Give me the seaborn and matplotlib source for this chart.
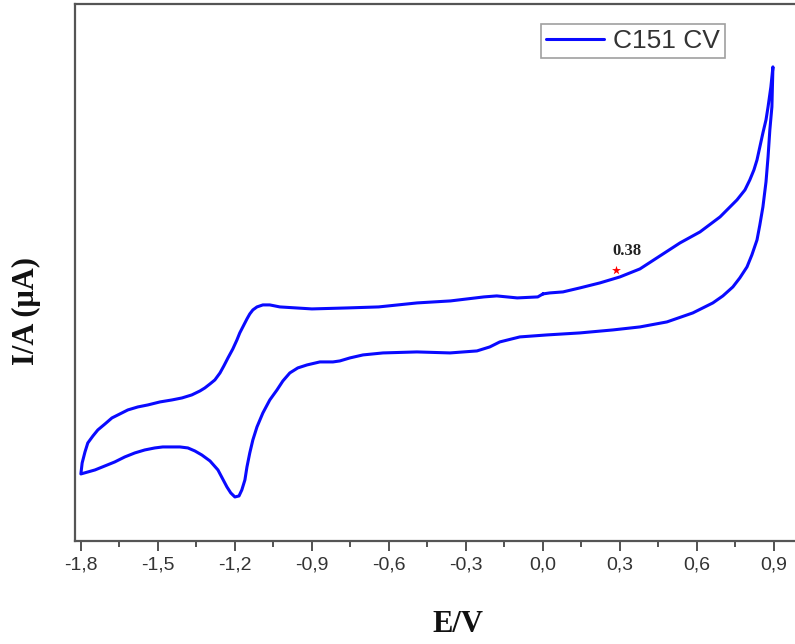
import numpy as np
import pandas as pd
import matplotlib
matplotlib.use('Agg')
import matplotlib.pyplot as plt
import seaborn as sns

# forward scan 0.0 -> 0.9 V (upper branch)
E_fwd = [0.00, 0.027, 0.078, 0.144, 0.222, 0.300, 0.378, 0.456, 0.534, 0.612,
         0.690, 0.721, 0.756, 0.787, 0.806, 0.822, 0.834, 0.845, 0.857, 0.869,
         0.877, 0.888, 0.896]
I_fwd = [10.6, 10.7, 10.8, 11.2, 11.7, 12.3, 13.1, 14.4, 15.7, 16.8,
         18.3, 19.1, 20.0, 21.0, 22.0, 23.0, 24.0, 25.3, 26.7, 28.0,
         29.3, 31.3, 33.3]

# reverse scan 0.9 -> -1.8 V (lower branch, cathodic peak near -1.2)
E_rev = [0.896, 0.892, 0.884, 0.877, 0.869, 0.857, 0.845, 0.834, 0.814, 0.795,
         0.767, 0.740, 0.701, 0.662, 0.584, 0.483, 0.378, 0.273, 0.144, 0.016,
         -0.090, -0.168, -0.207, -0.257, -0.362, -0.491, -0.623, -0.701, -0.752, -0.791,
         -0.818, -0.869, -0.919, -0.955, -0.986, -1.013, -1.036, -1.064, -1.091, -1.114,
         -1.130, -1.142, -1.153, -1.161, -1.173, -1.184, -1.200, -1.216, -1.231, -1.266,
         -1.297, -1.329, -1.356, -1.383, -1.414, -1.445, -1.481, -1.512, -1.551, -1.590,
         -1.629, -1.668, -1.706, -1.745, -1.773, -1.800]
I_rev = [33.3, 29.3, 27.0, 24.3, 21.8, 19.3, 17.5, 16.0, 14.5, 13.3,
         12.2, 11.3, 10.4, 9.7, 8.7, 7.8, 7.3, 7.0, 6.7, 6.5,
         6.3, 5.8, 5.3, 4.9, 4.7, 4.8, 4.7, 4.5, 4.2, 3.9,
         3.8, 3.8, 3.5, 3.2, 2.7, 1.9, 1.0, 0.0, -1.3, -2.7,
         -4.0, -5.3, -6.7, -8.0, -9.0, -9.6, -9.7, -9.3, -8.7, -7.0,
         -6.1, -5.5, -5.1, -4.8, -4.7, -4.7, -4.7, -4.8, -5.0, -5.3,
         -5.7, -6.2, -6.6, -7.0, -7.2, -7.4]

# return scan -1.8 -> 0.0 V (upper branch, anodic wave near -1.1)
E_ret = [-1.800, -1.795, -1.784, -1.773, -1.753, -1.734, -1.706, -1.679, -1.648, -1.617,
         -1.578, -1.539, -1.492, -1.445, -1.406, -1.368, -1.336, -1.317, -1.297, -1.278,
         -1.258, -1.243, -1.227, -1.208, -1.192, -1.181, -1.169, -1.153, -1.142, -1.130,
         -1.114, -1.091, -1.064, -1.025, -0.90, -0.76, -0.64, -0.49, -0.36, -0.23,
         -0.18, -0.10, -0.02, 0.00]
I_ret = [-7.4, -6.3, -5.2, -4.3, -3.6, -3.0, -2.4, -1.8, -1.4, -1.0,
         -0.7, -0.5, -0.2, 0.0, 0.2, 0.5, 0.9, 1.2, 1.6, 2.0,
         2.7, 3.4, 4.2, 5.1, 6.0, 6.7, 7.3, 8.1, 8.6, 9.0,
         9.3, 9.5, 9.5, 9.3, 9.1, 9.2, 9.3, 9.7, 9.9, 10.3,
         10.4, 10.2, 10.3, 10.6]

# marked point
star_E = 0.284
star_I = 13.0
star_text = '0.38'

xticks = [-1.8, -1.5, -1.2, -0.9, -0.6, -0.3, 0.0, 0.3, 0.6, 0.9]
xtick_labels = ['-1,8', '-1,5', '-1,2', '-0,9', '-0,6', '-0,3', '0,0', '0,3', '0,6', '0,9']

sns.set_theme(style='white')
plt.rcParams['font.family'] = ['Liberation Sans', 'DejaVu Sans']

df = pd.DataFrame({'E': E_fwd + E_rev + E_ret, 'I': I_fwd + I_rev + I_ret})

fig = plt.figure(figsize=(7.95, 6.44), dpi=100)
ax = fig.add_axes([0.0943, 0.160, 0.9635, 0.834])

sns.lineplot(data=df, x='E', y='I', sort=False, estimator=None,
             color='#0a0aff', lw=2.2, label='C151 CV', ax=ax)
sns.scatterplot(x=[star_E], y=[star_I], marker='*', color='red', s=45,
                linewidth=0, ax=ax, legend=False)
ax.text(0.327, 14.9, star_text, family='Liberation Serif', weight='bold',
        fontsize=12, ha='center', va='center', color='#222222')

ax.set_xlim(-1.823, 1.161)
ax.set_ylim(-14.1, 39.6)

ax.set_xticks(xticks)
ax.set_xticklabels(xtick_labels, fontsize=14, color='#333333')
ax.set_xticks(np.array(xticks[:-1]) + 0.15, minor=True)
ax.set_yticks([])
ax.tick_params(axis='x', which='major', direction='out', length=7, width=1.3,
               color='#444444', bottom=True, pad=4)
ax.tick_params(axis='x', which='minor', direction='out', length=4, width=1.3,
               color='#444444', bottom=True)

for s in ax.spines.values():
    s.set_color('#555555')
    s.set_linewidth(1.6)

ax.set_xlabel('E/V', family='Liberation Serif', weight='bold', fontsize=22,
              color='#111111', va='center')
ax.xaxis.set_label_coords(0.5, -0.155)
ax.set_ylabel('I/A (μA)', family='Liberation Serif', weight='bold', fontsize=22,
              color='#111111', va='center')
ax.yaxis.set_label_coords(-0.0627, 0.428)

leg = ax.legend(loc='upper left', bbox_to_anchor=(0.608, 0.963), fontsize=19,
                frameon=True, fancybox=False, edgecolor='#888888', borderpad=0.2,
                handlelength=2.2, handletextpad=0.35, borderaxespad=0)
leg.get_frame().set_linewidth(1.2)
for t in leg.get_texts():
    t.set_color('#333333')

fig.savefig('out.png', dpi=100)
